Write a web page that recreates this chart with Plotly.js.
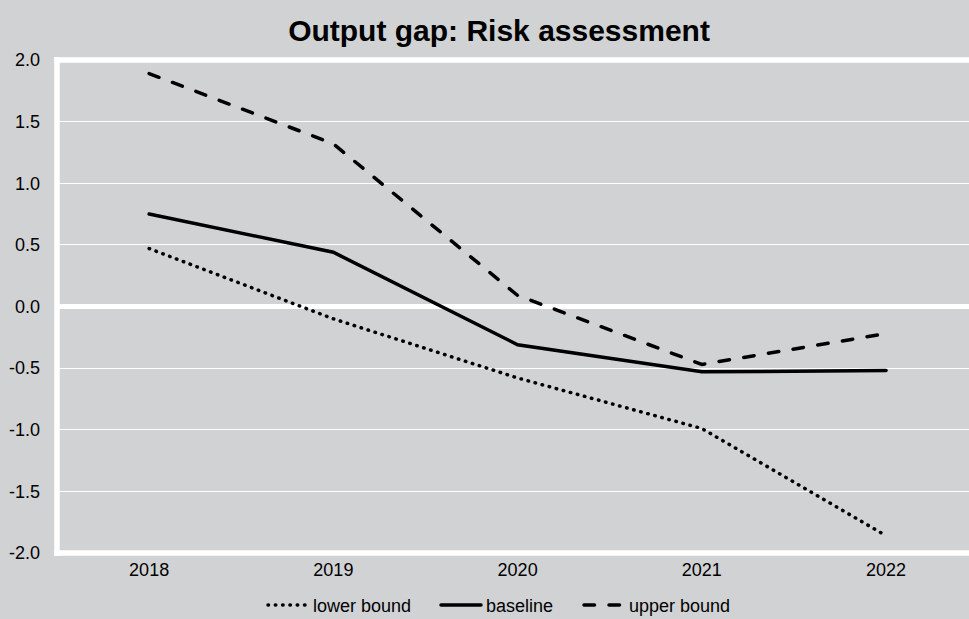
<!DOCTYPE html>
<html>
<head>
<meta charset="utf-8">
<script src="https://cdn.plot.ly/plotly-3.0.1.min.js"></script>
<style>
html,body{margin:0;padding:0;background:#d1d2d4;}
#chart{width:969px;height:619px;}
#chart path.js-line{stroke-linecap:round;}
</style>
</head>
<body>
<div id="chart"></div>
<script>
const years = ["2018", "2019", "2020", "2021", "2022"];
const lowerBound = [0.47, -0.10, -0.58, -0.99, -1.86];
const baseline = [0.75, 0.44, -0.31, -0.53, -0.52];
const upperBound = [1.89, 1.32, 0.09, -0.47, -0.22];
const yTickVals = [2.0, 1.5, 1.0, 0.5, 0.0, -0.5, -1.0, -1.5, -2.0];
const yTickText = ["2.0", "1.5", "1.0", "0.5", "0.0", "-0.5", "-1.0", "-1.5", "-2.0"];

const font = "Arial, 'Liberation Sans', sans-serif";
const traces = [
  {x: years, y: lowerBound, name: "lower bound", type: "scatter", mode: "lines", legend: "legend",
   line: {color: "#000000", width: 3.5, dash: "0.5px,6.8px"}},
  {x: years, y: baseline, name: "baseline", type: "scatter", mode: "lines", legend: "legend2",
   line: {color: "#000000", width: 3.5}},
  {x: years, y: upperBound, name: "upper bound", type: "scatter", mode: "lines", legend: "legend3",
   line: {color: "#000000", width: 3.5, dash: "10.5px,14.5px"}}
];
const legBase = {orientation: "h", xref: "container", xanchor: "left", yref: "container", y: 0.022, yanchor: "middle",
  font: {size: 18}, bgcolor: "rgba(0,0,0,0)", itemwidth: 40};
const frame = {type: "line", xref: "paper", yref: "paper", layer: "between", line: {color: "#ffffff", width: 5.5}};
const layout = {
  width: 969, height: 619,
  paper_bgcolor: "#d1d2d4", plot_bgcolor: "#d1d2d4",
  margin: {l: 57, r: 0, t: 60, b: 66},
  font: {family: font, size: 18, color: "#000000"},
  title: {text: "<b>Output gap: Risk assessment</b>", font: {family: font, size: 30, color: "#000000"},
    xref: "container", x: 0.515, xanchor: "center", yref: "container", y: 0.951, yanchor: "middle"},
  xaxis: {type: "category", range: [-0.5, 4.45], showgrid: false, zeroline: false, showline: false,
    ticks: "", tickfont: {size: 18}, ticklabelstandoff: 4},
  yaxis: {range: [-2, 2], tickvals: yTickVals, ticktext: yTickText, showgrid: true,
    gridcolor: "#ffffff", gridwidth: 1.2, zeroline: true, zerolinecolor: "#ffffff", zerolinewidth: 5,
    showline: false, ticks: "", tickfont: {size: 18}, ticklabelstandoff: 16},
  shapes: [
    Object.assign({}, frame, {x0: 0, x1: 0, y0: -0.006, y1: 1.006}),
    Object.assign({}, frame, {x0: -0.003, x1: 1, y0: 0, y1: 0}),
    Object.assign({}, frame, {x0: -0.003, x1: 1, y0: 1, y1: 1})
  ],
  showlegend: true,
  legend: Object.assign({}, legBase, {x: 263 / 969}),
  legend2: Object.assign({}, legBase, {x: 436 / 969}),
  legend3: Object.assign({}, legBase, {x: 579 / 969})
};
Plotly.newPlot("chart", traces, layout, {displayModeBar: false, staticPlot: true});
</script>
</body>
</html>
